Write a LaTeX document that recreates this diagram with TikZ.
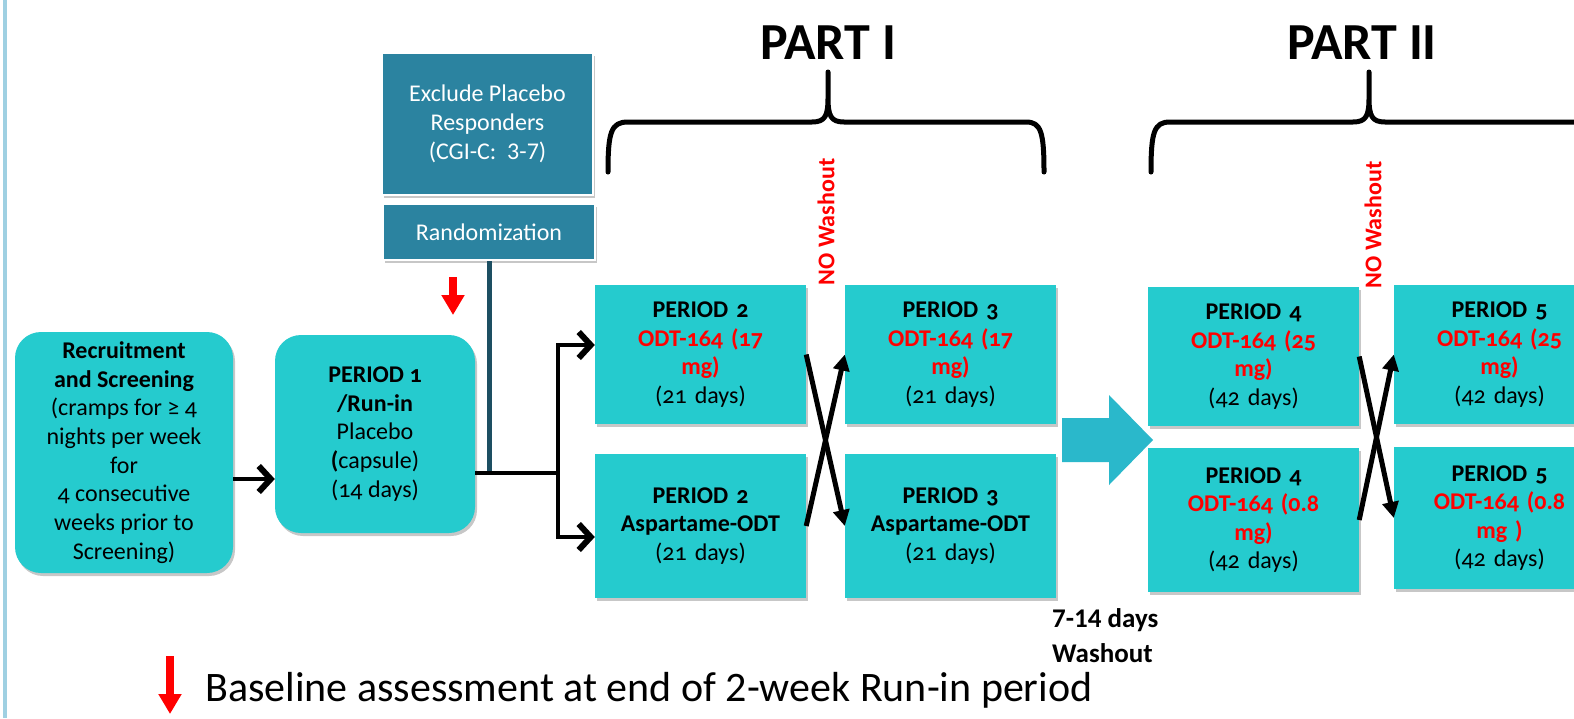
\documentclass[tikz,border=0pt]{standalone}
\usepackage{fontspec}
\setmainfont{Carlito}
\newfontfamily\boxf[Numbers=OldStyle]{Carlito}
\usetikzlibrary{arrows.meta,shadows}
\definecolor{turq}{HTML}{25CBCE}
\definecolor{steel}{HTML}{2B83A0}
\definecolor{darkline}{HTML}{1D4F62}
\definecolor{bigarrow}{HTML}{2AB8CB}
\definecolor{leftbar}{HTML}{9FD0E2}
\definecolor{redtxt}{HTML}{FF0000}
\newcommand{\rt}[1]{\textcolor{redtxt}{\textbf{#1}}}
\begin{document}
\begin{tikzpicture}[x=1pt,y=-1pt,
  every node/.style={inner sep=0pt, align=center},
  shad/.style={drop shadow={shadow xshift=2pt,shadow yshift=-3pt,opacity=0.22,fill=black}},
  rbox/.style={shad, fill=turq, rounded corners=26pt, font=\boxf\fontsize{24}{28.7}\selectfont},
  pbox/.style={shad, fill=turq, minimum width=211pt, text width=205pt, font=\boxf\fontsize{24}{28.5}\selectfont},
  sbox/.style={shad, fill=steel, draw=white, line width=2pt, text=white, minimum width=211pt, font=\fontsize{24}{29}\selectfont},
  chev/.style={line width=4.5pt, -{Straight Barb[length=12pt,width=26pt,line width=6pt]}},
  tri/.style={line width=5pt, -{Triangle[length=16pt,width=16pt]}},
  redarr/.style={draw=redtxt, line width=7.5pt, -{Triangle[length=20pt,width=22pt,fill=redtxt]}},
  bracestyle/.style={line width=5pt, line cap=round, line join=round},
  nowash/.style={rotate=90, text=redtxt, font=\bfseries\fontsize{24}{28}\selectfont},
  parttitle/.style={font=\bfseries\fontsize{52}{60}\selectfont}
]
\useasboundingbox (0,0) rectangle (1574,718);
\fill[white] (0,0) rectangle (1574,718);
\begin{scope}
\clip (0,0) rectangle (1574,718);
\draw[leftbar, line width=4pt] (5,0) -- (5,718);

% boxes
\node[rbox, minimum width=218pt, minimum height=241pt] (rec) at (124,452.5)
  {\textbf{Recruitment}\\ \textbf{and Screening}\\ (cramps for ≥ 4\\ nights per week\\ for\\ 4 consecutive\\ weeks prior to\\ Screening)};
\node[rbox, minimum width=200pt, minimum height=198pt] (p1) at (375,434)
  {\textbf{PERIOD 1}\\ \textbf{/Run-in}\\ Placebo\\ \textbf{(}capsule)\\ (14 days)};
\node[sbox, minimum height=142pt] (excl) at (487.5,124)
  {Exclude Placebo\\ Responders\\ (CGI-C:~~3-7)};
\node[sbox, minimum width=212pt, minimum height=56pt] (rand) at (489,232) {Randomization};

\node[pbox, minimum height=139pt] (p2top) at (700.5,354.5)
  {\textbf{PERIOD 2}\\ \rt{ODT-164 (17}\\ \rt{mg)}\\ (21 days)};
\node[pbox, minimum height=139pt] (p3top) at (950.5,354.5)
  {\textbf{PERIOD 3}\\ \rt{ODT-164 (17}\\ \rt{mg)}\\ (21 days)};
\node[pbox, minimum height=144pt] (p2bot) at (700.5,526)
  {\textbf{PERIOD 2}\\ \textbf{Aspartame-ODT}\\ (21 days)};
\node[pbox, minimum height=144pt] (p3bot) at (950.5,526)
  {\textbf{PERIOD 3}\\ \textbf{Aspartame-ODT}\\ (21 days)};
\node[pbox, minimum height=139pt] (p4top) at (1253.5,356.5)
  {\textbf{PERIOD 4}\\ \rt{ODT-164 (25}\\ \rt{mg)}\\ (42 days)};
\node[pbox, minimum height=144pt] (p4bot) at (1253.5,520)
  {\textbf{PERIOD 4}\\ \rt{ODT-164 (0.8}\\ \rt{mg)}\\ (42 days)};
\node[pbox, minimum height=139pt] (p5top) at (1499.5,354.5)
  {\textbf{PERIOD 5}\\ \rt{ODT-164 (25}\\ \rt{mg)}\\ (42 days)};
\node[pbox, minimum height=142pt] (p5bot) at (1499.5,518)
  {\textbf{PERIOD 5}\\ \rt{ODT-164 (0.8}\\ \rt{mg )}\\ (42 days)};

% connectors
\coordinate (ar1) at (0,479);
\coordinate (jn) at (558,473);
\draw[chev] (rec.east |- ar1) -- (p1.west |- ar1);
\draw[darkline, line width=5pt] (rand.south) -- (rand.south |- jn);
\draw[chev] (p1.east |- jn) -- (jn) |- ([yshift=9.5pt]p2top.west);
\draw[chev] (jn) |- ([yshift=-11pt]p2bot.west);
\draw[tri] (p2top.east) -- (p3bot.west);
\draw[tri] (p2bot.east) -- (p3top.west);
\draw[tri] (p4top.east) -- (p5bot.west);
\draw[tri] (p4bot.east) -- (p5top.west);

% big washout arrow
\fill[bigarrow] (1062,418) -- (1109,418) -- (1109,395) -- (1153,440) -- (1109,485) -- (1109,462) -- (1062,462) -- cycle;

% braces
\draw[bracestyle] (608,172) .. controls (608,132) and (611,122) .. (628,122) -- (812,122)
  .. controls (825,122) and (828,116) .. (828,98) -- (828,72)
  (828,98) .. controls (828,116) and (831,122) .. (844,122) -- (1026,122)
  .. controls (1041,122) and (1044,132) .. (1044,172);
\draw[bracestyle] (1151,172) .. controls (1151,132) and (1154,122) .. (1170,122) -- (1353,122)
  .. controls (1366,122) and (1369,116) .. (1369,98) -- (1369,72)
  (1369,98) .. controls (1369,116) and (1372,122) .. (1385,122) -- (1590,122);

% texts
\node[parttitle] (part1) at (828,43) {PART I};
\node[parttitle] (part2) at (1362,43) {PART II};
\node[nowash] (nw1) at (826,222) {NO Washout};
\node[nowash] (nw2) at (1373,225) {NO Washout};
\node[anchor=west, align=left, font=\bfseries\fontsize{27}{35}\selectfont] (wash) at (1052,636) {7-14 days\\Washout};

% red markers
\coordinate (m1a) at (453,277);
\coordinate (m1b) at (453,315);
\draw[redarr] (m1a) -- (m1b);
\coordinate (m2a) at (170,656);
\coordinate (m2b) at (170,714);
\draw[redarr] (m2a) -- (m2b);
\node[anchor=west, font=\fontsize{42}{50}\selectfont] (legend) at (205,690) {Baseline assessment at end of 2-week Run-in period};
\end{scope}
\end{tikzpicture}
\end{document}
